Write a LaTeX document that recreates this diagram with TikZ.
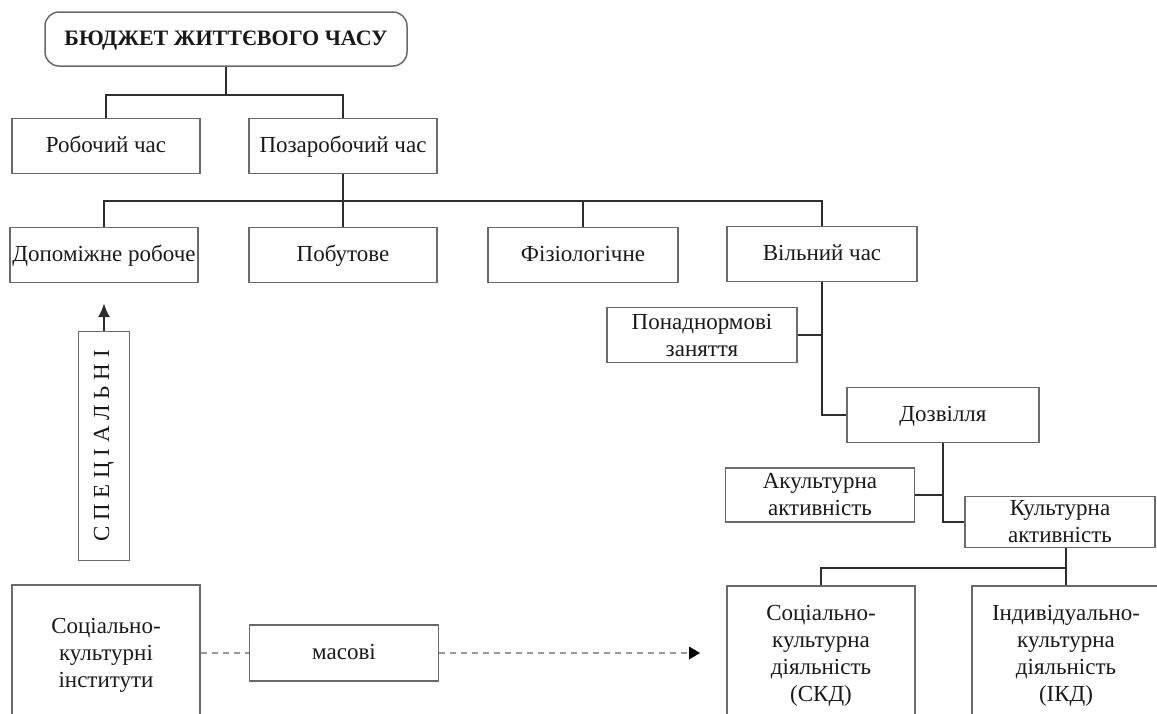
\documentclass[tikz,border=0pt]{standalone}
\usepackage{fontspec}
\setmainfont{Liberation Serif}
\usepackage{tikz}
\usetikzlibrary{arrows.meta,positioning,calc}
\definecolor{boxline}{HTML}{6A6A6A}
\definecolor{linkline}{HTML}{2E2E2E}
\definecolor{dashline}{HTML}{9A9A9A}

\begin{document}
\begin{tikzpicture}[x=0.5pt, y=-0.5pt,
    box/.style={draw=boxline, line width=0.75pt, align=center, inner sep=1pt,
                font=\fontsize{11.5}{13.5}\selectfont, text=black!90},
    oneline/.style={text height=1.45ex, text depth=0pt},
    link/.style={draw=linkline, line width=1.1pt},
    dashlink/.style={draw=dashline, line width=0.9pt, dash pattern=on 3pt off 2.5pt}]
    \clip (0,0) rectangle (1157,713);
    % Budget and first split
    \node[box, oneline, rounded corners=7pt, minimum width=181pt, minimum height=27pt,
          font=\fontsize{11}{13}\selectfont\bfseries] (budget) at (226,39)
         {БЮДЖЕТ ЖИТТЄВОГО ЧАСУ};
    \node[box, oneline, minimum width=94pt, minimum height=27.5pt] (work) at (106,146) {Робочий час};
    \node[box, oneline, minimum width=94pt, minimum height=27.5pt] (offwork) at (343,146) {Позаробочий час};
    \coordinate (bustop) at (226,95);
    \draw[link] (budget.south) -- (bustop);
    \draw[link] (work.north) |- (bustop) -| (offwork.north);
    % Non-working time
    \node[box, oneline, minimum width=94pt, minimum height=27.5pt] (aux) at (104,255) {Допоміжне робоче};
    \node[box, oneline, minimum width=94pt, minimum height=27.5pt] (house) at (343,255) {Побутове};
    \node[box, oneline, minimum width=95pt, minimum height=27.5pt] (physio) at (583,255) {Фізіологічне};
    \node[box, oneline, minimum width=95pt, minimum height=27.5pt] (free) at (822,254) {Вільний час};
    \coordinate (busmid) at (343,201);
    \draw[link] (offwork.south) -- (house.north);
    \draw[link] (aux.north) |- (busmid) -| (free.north);
    \draw[link] (physio.north) -- (physio.north |- busmid);
    % Free time
    \node[box, minimum width=95pt, minimum height=27.5pt] (extra) at (702,335)
         {Понаднормові\\заняття};
    \node[box, oneline, minimum width=96pt, minimum height=27.5pt] (leisure) at (943,415) {Дозвілля};
    \draw[link] (free.south) |- (leisure.west);
    \draw[link] (extra.east) -- (extra.east -| free.south);
    % Leisure
    \node[box, minimum width=94.5pt, minimum height=27pt] (acult) at (820,495)
         {Акультурна\\активність};
    \node[box, minimum width=95pt, minimum height=25.5pt] (cult) at (1060,522)
         {Культурна\\активність};
    \draw[link] (leisure.south) |- (cult.west);
    \draw[link] (acult.east) -- (acult.east -| leisure.south);
    % Cultural activity
    \node[box, minimum width=94pt, minimum height=70pt] (skd) at (821,656)
         {Соціально-\\культурна\\діяльність\\(СКД)};
    \node[box, minimum width=94pt, minimum height=70pt] (ikd) at (1066,656)
         {Індивідуально-\\культурна\\діяльність\\(ІКД)};
    \coordinate (busbot) at (1066,568);
    \draw[link] (ikd.north) -- (ikd.north |- cult.south);
    \draw[link] (skd.north) |- (busbot);
    % Institutions
    \node[box, minimum width=25.5pt, minimum height=114.5pt] (special) at (104,446) {};
    \node[rotate=90, font=\fontsize{11.5}{13}\selectfont, text=black!90] (speclabel)
         at (special.center) {С\ П\ Е\ Ц\ І\ А\ Л\ Ь\ Н\ І};
    \coordinate (spectip) at (104,303);
    \draw[link, -{Latex[length=7pt,width=6pt]}] (special.north) -- (spectip);
    \node[box, minimum width=94pt, minimum height=70pt] (inst) at (106,655)
         {Соціально-\\культурні\\інститути};
    \node[box, oneline, minimum width=94.5pt, minimum height=28pt] (mass) at (344,653) {масові};
    \coordinate (masstip) at (700,653);
    \draw[dashlink] (inst.east |- mass.west) -- (mass.west);
    \draw[dashlink] (mass.east) -- (masstip);
    \fill[black] (masstip) -- ++(-11,-6.5) -- ++(0,13) -- cycle;
\end{tikzpicture}
\end{document}
